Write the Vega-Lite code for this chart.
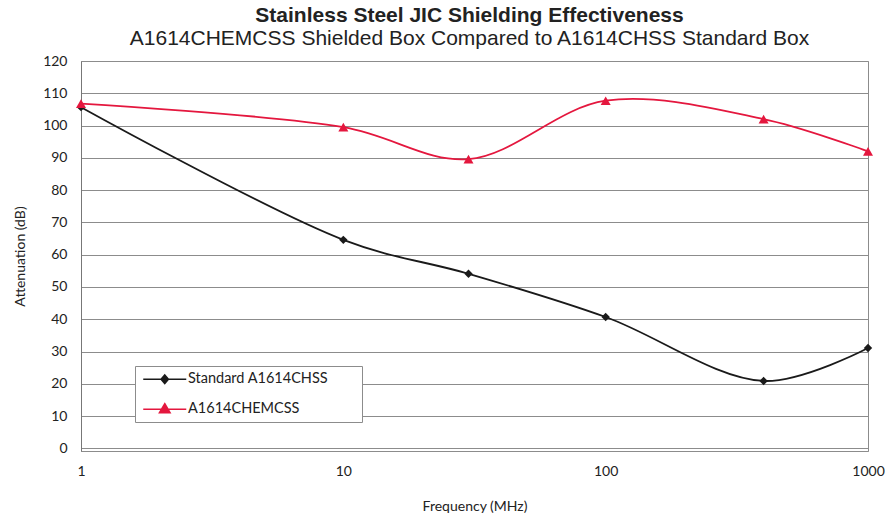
{
  "$schema": "https://vega.github.io/schema/vega-lite/v6.json",
  "width": 787,
  "height": 390,
  "autosize": {"type": "none"},
  "padding": {"left": 81, "top": 61, "right": 17, "bottom": 69},
  "background": "white",
  "config": {
    "view": {"stroke": "#8c8c8c", "strokeWidth": 1},
    "font": "Lato"
  },
  "title": {
    "text": "Stainless Steel JIC Shielding Effectiveness",
    "subtitle": "A1614CHEMCSS Shielded Box Compared to A1614CHSS Standard Box",
    "font": "Liberation Sans",
    "fontSize": 21,
    "fontWeight": "bold",
    "color": "#222222",
    "subtitleFont": "Liberation Sans",
    "subtitleFontSize": 21,
    "subtitleColor": "#222222",
    "subtitlePadding": 2,
    "offset": 5,
    "anchor": "middle",
    "dx": -5
  },
  "data": {
    "values": [
      {"series": "Standard A1614CHSS", "freq": 1, "att": 105.7},
      {"series": "Standard A1614CHSS", "freq": 10, "att": 64.6},
      {"series": "Standard A1614CHSS", "freq": 30, "att": 54.1},
      {"series": "Standard A1614CHSS", "freq": 100, "att": 40.7},
      {"series": "Standard A1614CHSS", "freq": 400, "att": 20.9},
      {"series": "Standard A1614CHSS", "freq": 1000, "att": 31.1},
      {"series": "A1614CHEMCSS", "freq": 1, "att": 106.8},
      {"series": "A1614CHEMCSS", "freq": 10, "att": 99.5},
      {"series": "A1614CHEMCSS", "freq": 30, "att": 89.6},
      {"series": "A1614CHEMCSS", "freq": 100, "att": 107.7},
      {"series": "A1614CHEMCSS", "freq": 400, "att": 102.0},
      {"series": "A1614CHEMCSS", "freq": 1000, "att": 92.0}
    ]
  },
  "encoding": {
    "x": {
      "field": "freq",
      "type": "quantitative",
      "scale": {"type": "log", "domain": [1, 1000]},
      "axis": {
        "values": [1, 10, 100, 1000],
        "format": "d",
        "grid": false,
        "ticks": false,
        "domainColor": "#8c8c8c",
        "labelFontSize": 14,
        "labelPadding": 13,
        "labelColor": "#222222",
        "labelFlush": false,
        "title": "Frequency (MHz)",
        "titleFontSize": 14,
        "titleFontWeight": "normal",
        "titleColor": "#222222",
        "titlePadding": 21
      }
    },
    "y": {
      "field": "att",
      "type": "quantitative",
      "scale": {"domain": [-0.8, 120], "nice": false, "zero": false},
      "axis": {
        "values": [0, 10, 20, 30, 40, 50, 60, 70, 80, 90, 100, 110, 120],
        "grid": true,
        "gridColor": "#8c8c8c",
        "ticks": false,
        "domainColor": "#777777",
        "labelFontSize": 14,
        "labelPadding": 14,
        "labelColor": "#222222",
        "title": "Attenuation (dB)",
        "titleFontSize": 14,
        "titleFontWeight": "normal",
        "titleColor": "#222222",
        "titlePadding": 15
      }
    }
  },
  "layer": [
    {
      "mark": {"type": "line", "interpolate": "catmull-rom", "strokeWidth": 1.8},
      "encoding": {
        "color": {
          "field": "series",
          "type": "nominal",
          "scale": {
            "domain": ["Standard A1614CHSS", "A1614CHEMCSS"],
            "range": ["#1a1a1a", "#e4173e"]
          },
          "legend": {
            "orient": "none",
            "legendX": 54,
            "legendY": 305,
            "title": null,
            "fillColor": "white",
            "strokeColor": "#8c8c8c",
            "padding": 6,
            "labelFontSize": 14.5,
            "labelColor": "#222222",
            "labelOffset": 16,
            "symbolSize": 100,
            "symbolOffset": 16.5,
            "symbolType": "M-4.3,0H4.3",
            "symbolStrokeWidth": 1.6,
            "rowPadding": 13,
            "encode": {
              "symbols": {
                "update": {
                  "shape": {"signal": "datum.value === 'Standard A1614CHSS' ? 'M-4.3,0H4.3M0,-0.86L0.73,0L0,0.86L-0.73,0ZM37.6,0' : 'M-4.3,0H4.3M0,-1.1L1.05,0.7L-1.05,0.7ZM37.6,0'"},
                  "fill": {"signal": "datum.value === 'Standard A1614CHSS' ? '#1a1a1a' : '#e4173e'"},
                  "stroke": {"signal": "datum.value === 'Standard A1614CHSS' ? '#1a1a1a' : '#e4173e'"},
                  "strokeWidth": {"value": 1.6},
                  "size": {"value": 100},
                  "opacity": {"value": 1}
                }
              }
            }
          }
        }
      }
    },
    {
      "transform": [{"filter": "datum.series === 'Standard A1614CHSS'"}],
      "mark": {"type": "point", "filled": true, "opacity": 1, "shape": "diamond", "size": 70, "color": "#1a1a1a"}
    },
    {
      "transform": [{"filter": "datum.series === 'A1614CHEMCSS'"}],
      "mark": {"type": "point", "filled": true, "opacity": 1, "shape": "triangle-up", "size": 100, "color": "#e4173e"}
    }
  ]
}
